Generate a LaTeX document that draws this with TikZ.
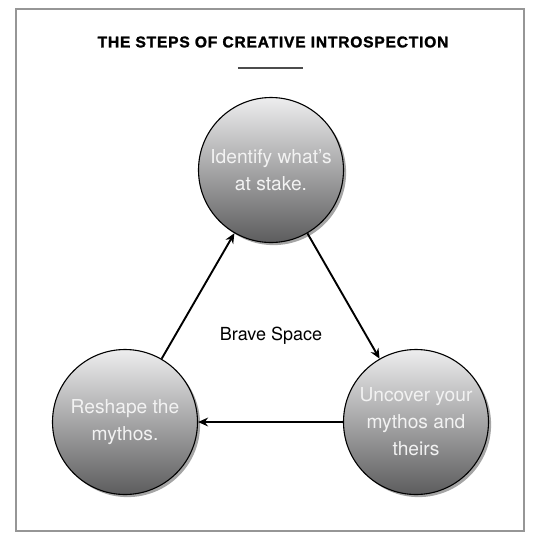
\documentclass[tikz,border=0pt]{standalone}
\usepackage{fontspec}
\setmainfont{TeX Gyre Heros}
\newfontfamily\titlefont[LetterSpace=5, BoldFeatures={FakeBold=1.6}]{Liberation Sans}
\usetikzlibrary{arrows.meta, positioning, shadows}
\definecolor{frame-gray}{RGB}{150,150,150}
\definecolor{disc-light}{RGB}{238,238,238}
\definecolor{disc-mid}{RGB}{180,180,181}
\definecolor{disc-dark}{RGB}{92,92,94}

\begin{document}
\begin{tikzpicture}[
  x=0.5pt, y=-0.5pt,
  stage/.style={circle, draw=black, line width=0.55pt, minimum size=72.5pt, inner sep=0pt, align=center,
    font=\fontsize{9.6}{13.5}\selectfont, text=white!95!black,
    top color=disc-light, middle color=disc-mid, bottom color=disc-dark,
    drop shadow={shadow xshift=1.3pt, shadow yshift=-1.3pt, fill=black!70, opacity=0.5}},
  arr/.style={-{Stealth[length=5pt, width=4.4pt]}, line width=0.95pt},
]
  \useasboundingbox (0,0) rectangle (535,538);
  \draw[frame-gray, line width=0.6pt] (16,9) rectangle (524,531);

  % Title
  \node[font=\titlefont\bfseries\fontsize{7.8}{9}\selectfont] (title) at (273,42) {THE STEPS OF CREATIVE INTROSPECTION};
  \draw[black!70, line width=0.6pt] (238,68) -- (303,68);

  % Steps
  \node[stage] (identify) at (271,170) {Identify what's\\at stake.};
  \node[stage] (uncover) at (416,422) {Uncover your\\mythos and\\theirs};
  \node[stage] (reshape) at (125,422) {Reshape the\\mythos.};

  % Centre label
  \node[font=\fontsize{9}{11}\selectfont] (brave) at (271,336) {Brave Space};

  % Cycle
  \draw[arr] (identify) -- (uncover);
  \draw[arr] (uncover) -- (reshape);
  \draw[arr] (reshape) -- (identify);
\end{tikzpicture}
\end{document}
